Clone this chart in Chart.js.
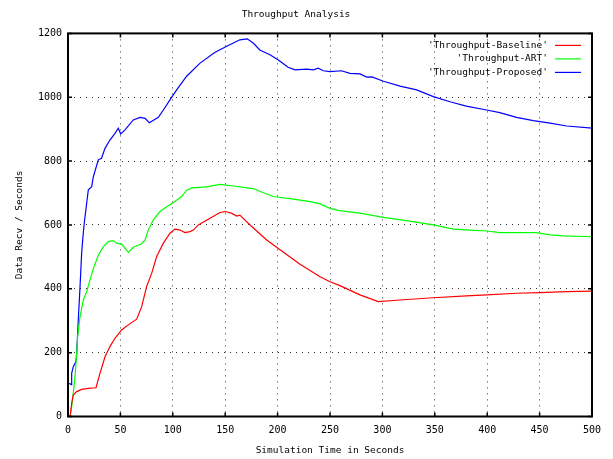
<!DOCTYPE html>
<html>
<head>
<meta charset="utf-8">
<script src="https://cdn.jsdelivr.net/npm/chart.js@4/dist/chart.umd.min.js"></script>
<style>
  html, body { margin: 0; padding: 0; background: #fff; }
  canvas { display: block; }
</style>
</head>
<body>
<canvas id="chart" width="613" height="459"></canvas>
<script>
// data (x = simulation time, y = data recv / s)
const baselineX = [2, 3.5, 5, 8.3, 13, 19.4, 26.7, 30.5, 35.3, 40, 44.8, 51.2, 57.5, 65.5, 70.3, 75, 79.9, 84.6, 91, 97.3, 102, 106.9, 111.6, 116.4, 119.6, 124.4, 135.5, 145, 149.8, 156, 160.9, 164, 173.7, 189.6, 202.3, 221.4, 240.5, 250, 259.5, 278.6, 296, 316.8, 348.6, 380, 399.5, 428, 450, 476, 500];
const baselineY = [0, 41, 67, 78, 85, 88, 90, 135, 187, 219, 245, 271, 287, 305, 344, 407, 449, 501, 543, 574, 587, 584, 576, 579, 584, 600, 621, 639, 642, 637, 628, 631, 600, 553, 522, 477, 438, 422, 410, 381, 360, 365, 372, 378, 381, 386, 388, 391, 393];

const artX = [2, 3.5, 5, 6.7, 8.3, 9.2, 11.5, 14.6, 17.8, 21, 24.2, 29, 33.7, 38.5, 43.2, 46.5, 51.2, 57.6, 62.3, 70, 73.5, 76.6, 81.4, 87.8, 94.2, 100.5, 108.5, 113, 118, 132, 145, 157.7, 176.8, 186.4, 196, 215, 231, 240.5, 250, 259, 278.6, 301, 326, 348.6, 367.7, 383.6, 399.5, 412, 447, 460, 472.6, 500];
const artY = [0, 31, 73, 125, 198, 250, 313, 365, 391, 428, 464, 506, 532, 548, 551, 543, 540, 514, 530, 540, 553, 584, 616, 642, 657, 670, 689, 708, 716, 719, 727, 722, 714, 701, 689, 681, 673, 666, 652, 645, 637, 624, 612, 600, 587, 584, 581, 576, 576, 569, 566, 563];

const proposedX = [1.2, 3, 3.5, 5, 7.6, 8.3, 9.8, 11.5, 13, 14, 15.3, 17.8, 19.4, 22.6, 24.2, 28.9, 32, 35.3, 40, 44.8, 48, 50.3, 54.4, 62.3, 68.7, 73.5, 77.6, 86.2, 91, 97.3, 103.7, 113, 126, 140, 151, 164, 171, 177, 183, 192.7, 200.7, 210, 216.6, 227.8, 234, 238.8, 243.6, 250, 261, 269, 278.6, 285, 290, 301, 316.8, 332.7, 348.6, 364.5, 380, 399.5, 412, 428, 444, 460, 476, 500];
const proposedY = [104, 100, 135, 156, 172, 198, 302, 407, 511, 553, 600, 668, 710, 720, 751, 804, 809, 840, 866, 887, 903, 885, 898, 929, 937, 934, 920, 937, 960, 992, 1023, 1065, 1107, 1140, 1159, 1180, 1183, 1169, 1148, 1133, 1117, 1094, 1086, 1088, 1086, 1091, 1083, 1080, 1083, 1075, 1073, 1063, 1064, 1050, 1035, 1023, 1002, 986, 972, 960, 952, 937, 927, 919, 910, 903];

const seriesNames = ["'Throughput-Baseline'", "'Throughput-ART'", "'Throughput-Proposed'"];
const seriesColors = ['#ff0000', '#00ff00', '#0000ff'];
const xTicks = [0, 50, 100, 150, 200, 250, 300, 350, 400, 450, 500];
const yTicks = [0, 200, 400, 600, 800, 1000, 1200];

const FONT = 'DejaVu Sans Mono';

function toPoints(xs, ys) {
    return xs.map((x, i) => ({ x: x, y: ys[i] }));
}

// gnuplot-like frame with inward ticks on all four sides
const framePlugin = {
    id: 'frame',
    afterDatasetsDraw(chart) {
        const { ctx, chartArea: a, scales } = chart;
        ctx.save();
        ctx.strokeStyle = '#000';
        ctx.lineWidth = 1.5;
        ctx.beginPath();
        xTicks.forEach(v => {
            const px = scales.x.getPixelForValue(v);
            ctx.moveTo(px, a.bottom); ctx.lineTo(px, a.bottom - 4);
            ctx.moveTo(px, a.top); ctx.lineTo(px, a.top + 4);
        });
        yTicks.forEach(v => {
            const py = scales.y.getPixelForValue(v);
            ctx.moveTo(a.left, py); ctx.lineTo(a.left + 4, py);
            ctx.moveTo(a.right, py); ctx.lineTo(a.right - 4, py);
        });
        ctx.stroke();
        ctx.lineWidth = 2;
        ctx.strokeRect(a.left, a.top, a.right - a.left, a.bottom - a.top);
        ctx.restore();
    }
};

// legend in the top right corner, text right aligned, line sample after it
const legendPlugin = {
    id: 'cornerLegend',
    afterDraw(chart) {
        const { ctx, chartArea: a } = chart;
        ctx.save();
        ctx.font = '9.5px "' + FONT + '"';
        ctx.textAlign = 'right';
        ctx.textBaseline = 'middle';
        chart.data.datasets.forEach((ds, i) => {
            const y = a.top + 12 + i * 13.5;
            ctx.fillStyle = '#000';
            ctx.fillText(ds.label, a.right - 44, y);
            ctx.strokeStyle = ds.borderColor;
            ctx.lineWidth = 1.2;
            ctx.beginPath();
            ctx.moveTo(a.right - 37, y);
            ctx.lineTo(a.right - 11, y);
            ctx.stroke();
        });
        ctx.restore();
    }
};

new Chart(document.getElementById('chart'), {
    type: 'line',
    data: {
        datasets: [
            { label: seriesNames[0], data: toPoints(baselineX, baselineY), borderColor: seriesColors[0] },
            { label: seriesNames[1], data: toPoints(artX, artY), borderColor: seriesColors[1] },
            { label: seriesNames[2], data: toPoints(proposedX, proposedY), borderColor: seriesColors[2] }
        ]
    },
    options: {
        responsive: false,
        animation: false,
        devicePixelRatio: 1,
        layout: { padding: { top: 0, right: 21, bottom: 0, left: 0 } },
        elements: {
            line: { borderWidth: 1.2, tension: 0, fill: false },
            point: { radius: 0 }
        },
        plugins: {
            legend: { display: false },
            tooltip: { enabled: false },
            title: {
                display: true,
                text: 'Throughput Analysis',
                color: '#000',
                font: { family: FONT, size: 9.5, weight: 'normal', lineHeight: 1.2 },
                padding: { top: 9, bottom: 13 }
            }
        },
        scales: {
            x: {
                type: 'linear',
                min: 0,
                max: 500,
                afterBuildTicks: s => { s.ticks = xTicks.map(v => ({ value: v })); },
                afterFit: s => { s.height = 42.5; },
                ticks: {
                    color: '#000',
                    padding: 8,
                    maxRotation: 0,
                    font: { family: FONT, size: 10 },
                    callback: v => String(v)
                },
                grid: { color: 'rgba(0,0,0,0.8)', lineWidth: 1, drawTicks: false },
                border: { display: false, dash: [1, 5] },
                title: {
                    display: true,
                    text: 'Simulation Time in Seconds',
                    color: '#000',
                    font: { family: FONT, size: 9.5, lineHeight: 1.2 },
                    padding: { top: 0, bottom: 3 }
                }
            },
            y: {
                type: 'linear',
                min: 0,
                max: 1200,
                afterBuildTicks: s => { s.ticks = yTicks.map(v => ({ value: v })); },
                afterFit: s => { s.width = 68; },
                ticks: {
                    color: '#000',
                    padding: 6,
                    font: { family: FONT, size: 10 },
                    callback: v => String(v)
                },
                grid: { color: 'rgba(0,0,0,0.8)', lineWidth: 1, drawTicks: false },
                border: { display: false, dash: [1, 5] },
                title: {
                    display: true,
                    text: 'Data Recv / Seconds',
                    color: '#000',
                    font: { family: FONT, size: 9.5, lineHeight: 1.2 },
                    padding: { top: 14, bottom: 0 }
                }
            }
        }
    },
    plugins: [framePlugin, legendPlugin]
});
</script>
</body>
</html>
